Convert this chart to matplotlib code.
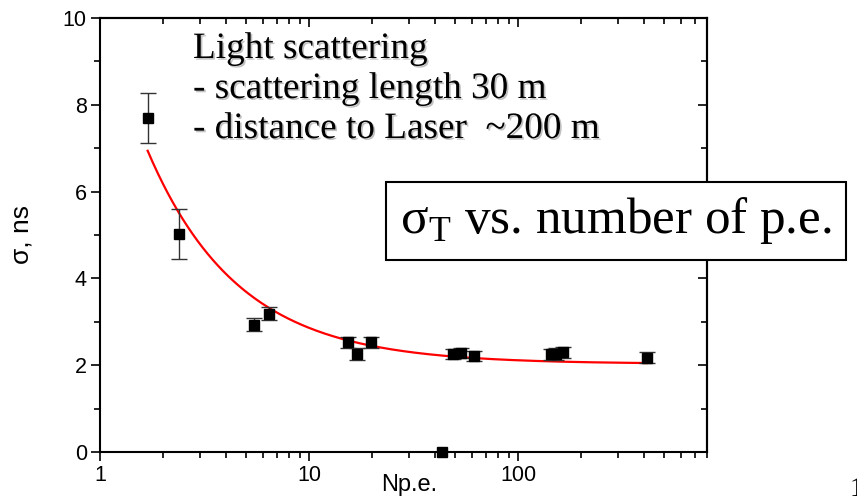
import numpy as np
import matplotlib
matplotlib.use('Agg')
import matplotlib.pyplot as plt
import matplotlib.patheffects as pe
from matplotlib.ticker import (LogLocator, FixedLocator, FixedFormatter,
                               NullFormatter, MultipleLocator)

plt.rcParams['font.family'] = ['Liberation Sans', 'DejaVu Sans']

# measured time resolution vs. number of photoelectrons
n_pe = [1.69, 2.38, 5.43, 6.41, 15.3, 16.9, 19.7, 49.0, 53.5, 61.7, 144, 152, 163, 413]
sigma = [7.70, 5.02, 2.93, 3.18, 2.53, 2.26, 2.53, 2.26, 2.28, 2.21, 2.25, 2.26, 2.30, 2.17]
sigma_err = [0.57, 0.58, 0.15, 0.15, 0.13, 0.13, 0.13, 0.12, 0.12, 0.12, 0.13, 0.13, 0.13, 0.13]

# stray point sitting on the axis
n_pe_zero = [43.4]
sigma_zero = [0.0]

# fit sigma = a + b / N
fit_a = 2.03
fit_b = 8.30
fit_range = (1.69, 413)

x_ticks = [1, 10, 100]
x_ticklabels = ['1', '10', '100']

fig = plt.figure(figsize=(8.57, 5.04), dpi=100)
ax = fig.add_axes([100 / 857, 52 / 504, 607 / 857, 434 / 504])

n_fit = np.logspace(np.log10(fit_range[0]), np.log10(fit_range[1]), 300)
ax.plot(n_fit, fit_a + fit_b / n_fit, color='red', lw=1.6, zorder=2)

ax.errorbar(n_pe, sigma, yerr=sigma_err, fmt='s', color='black', ms=7,
            ecolor='#333333', elinewidth=1.0, capsize=6, capthick=1.0, zorder=3)
ax.plot(n_pe_zero, sigma_zero, 's', color='black', ms=7, clip_on=False, zorder=4)

ax.set_xscale('log')
ax.set_xlim(1, 800)
ax.set_ylim(0, 10)

ax.xaxis.set_major_locator(FixedLocator(x_ticks))
ax.xaxis.set_major_formatter(FixedFormatter(x_ticklabels))
ax.xaxis.set_minor_locator(LogLocator(base=10, subs=np.arange(2, 10)))
ax.xaxis.set_minor_formatter(NullFormatter())
ax.yaxis.set_major_locator(MultipleLocator(2))
ax.yaxis.set_minor_locator(MultipleLocator(1))

for s in ax.spines.values():
    s.set_linewidth(1.5)

ax.tick_params(which='major', direction='out', length=6.5, width=1.2,
               labelsize=15.5, pad=3)
ax.tick_params(which='minor', direction='out', length=4, width=1.2)

# top and right axes with inward ticks
top = ax.secondary_xaxis('top')
top.set_xscale('log')
top.xaxis.set_major_locator(FixedLocator(x_ticks))
top.xaxis.set_minor_locator(LogLocator(base=10, subs=np.arange(2, 10)))
top.xaxis.set_major_formatter(NullFormatter())
top.xaxis.set_minor_formatter(NullFormatter())
top.tick_params(which='major', direction='in', length=6.5, width=1.2)
top.tick_params(which='minor', direction='in', length=4, width=1.2)
top.spines['top'].set_linewidth(1.5)

right = ax.secondary_yaxis('right')
right.yaxis.set_major_locator(MultipleLocator(2))
right.yaxis.set_minor_locator(MultipleLocator(1))
right.yaxis.set_major_formatter(NullFormatter())
right.tick_params(which='major', direction='in', length=6.5, width=1.2)
right.tick_params(which='minor', direction='in', length=4, width=1.2)
right.spines['right'].set_linewidth(1.5)

ax.set_xlabel('Np.e.', fontsize=17)
ax.set_ylabel('σ, ns', fontsize=19)
ax.xaxis.set_label_coords(0.51, -0.05)
ax.yaxis.set_label_coords(-0.11, 0.5)

shadow = [pe.withSimplePatchShadow(offset=(1.2, -1.2), shadow_rgbFace='#999999', alpha=0.6)]
notes = ['Light scattering', '- scattering length 30 m', '- distance to Laser  ~200 m']
for i, line in enumerate(notes):
    fig.text(193 / 857, 1 - (58 + 40 * i) / 504, line, family='Liberation Serif',
             fontsize=26.8, va='baseline', ha='left', path_effects=shadow)

fig.text(616 / 857, 1 - 221 / 504, r'σ$_\mathregular{T}$ vs. number of p.e.',
         family='Liberation Serif', fontsize=36.8, ha='center', va='center',
         bbox=dict(boxstyle='square,pad=0.27', fc='white', ec='black', lw=1.5))

fig.text(850 / 857, 1 - 490 / 504, '1', family='Liberation Serif', fontsize=20,
         ha='left', va='center')

fig.savefig('out.png', dpi=100)
